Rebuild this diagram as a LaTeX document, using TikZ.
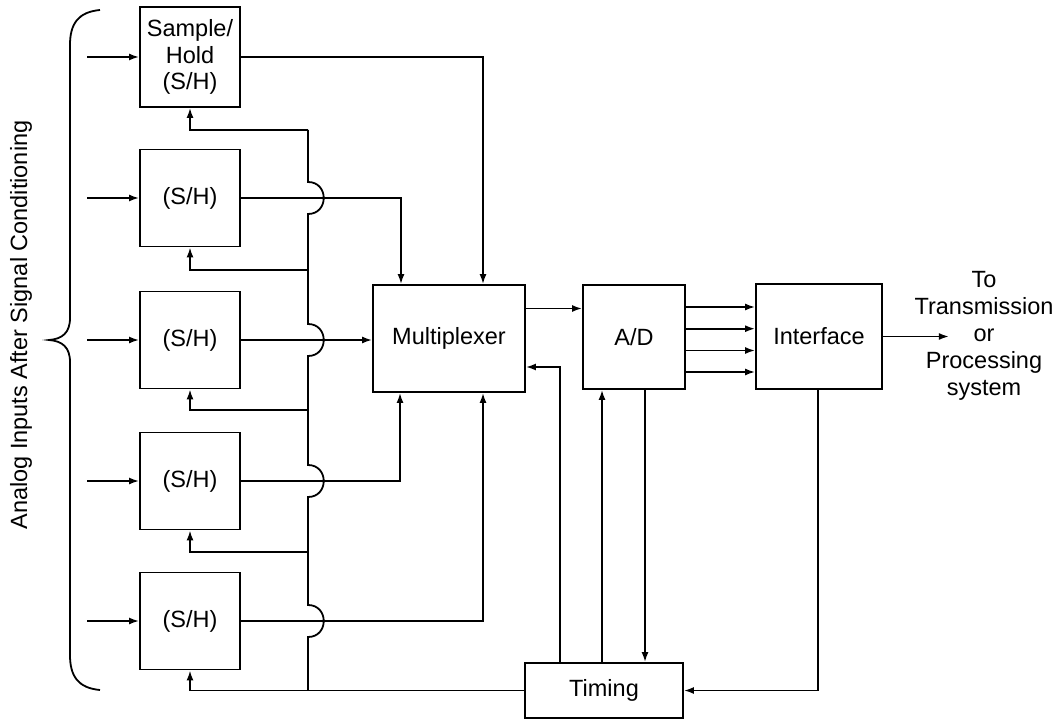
\documentclass[tikz,border=0pt]{standalone}
\usepackage{fontspec}
\setmainfont{Liberation Sans}
\usetikzlibrary{arrows.meta,calc}
\begin{document}
\begin{tikzpicture}[x=1pt,y=-1pt,
  line width=1.8pt,
  box/.style={draw,minimum width=100pt,minimum height=97pt,inner sep=0pt,align=center,font=\fontsize{23.5}{26.5}\selectfont},
  lbl/.style={align=center,font=\fontsize{23.5}{27}\selectfont},
  arr/.style={-{Latex[length=10pt,width=7pt]}}]
\useasboundingbox (0,0) rectangle (1059,719);
% S/H boxes
\node[box,minimum height=100pt] (sh1) at (190,57) {Sample/\\Hold\\(S/H)};
\node[box] (sh2) at (190,198) {(S/H)};
\node[box] (sh3) at (190,340) {(S/H)};
\node[box] (sh4) at (190,481) {(S/H)};
\node[box] (sh5) at (190,621) {(S/H)};
% main blocks
\node[box,minimum width=152pt,minimum height=107pt] (mux) at (449,338.5) {Multiplexer};
\node[box,minimum width=102pt,minimum height=104pt] (ad) at (634,337) {A/D};
\node[box,minimum width=126pt,minimum height=105pt] (intf) at (819,336.5) {Interface};
\node[box,minimum width=158pt,minimum height=55pt] (timing) at (604,690.5) {Timing};
\node[lbl] (dest) at (984,336) {To\\Transmission\\or\\Processing\\system};
\node[lbl,rotate=90] (alab) at (21,325) {Analog Inputs After Signal Conditioning};
% brace
\draw[line width=1.8pt] (100,10) .. controls (78,12) and (70,24) .. (70,45) -- (70,318)
  .. controls (70,333) and (62,339) .. (49,340)
  .. controls (62,341) and (70,347) .. (70,362) -- (70,655)
  .. controls (70,676) and (78,688) .. (100,690);
% inputs
\foreach \n in {1,...,5}{
  \coordinate (in\n) at ($(sh\n.west)+(-52,0)$);
  \draw[arr] (in\n) -- (sh\n.west);
}
% S/H outputs to multiplexer
\coordinate (mt1) at ([xshift=34pt]mux.north);
\coordinate (mt2) at ([xshift=-48pt]mux.north);
\coordinate (mb1) at ([xshift=-49pt]mux.south);
\coordinate (mb2) at ([xshift=34pt]mux.south);
\draw[arr] (sh1.east) -| (mt1);
\draw[arr] (sh2.east) -| (mt2);
\draw[arr] (sh3.east) -- (sh3.east -| mux.west);
\draw[arr] (sh4.east) -| (mb1);
\draw[arr] (sh5.east) -| (mb2);
% bus with jumps
\coordinate (b1) at (308,130);
\coordinate (b2) at (308,270);
\coordinate (b3) at (308,410);
\coordinate (b4) at (308,552);
\coordinate (b5) at (timing.west -| b1);
\draw (b1) -- (308,182) .. controls (329,182) and (329,214) .. (308,214)
  -- (308,324) .. controls (329,324) and (329,356) .. (308,356)
  -- (308,465) .. controls (329,465) and (329,497) .. (308,497)
  -- (308,605) .. controls (329,605) and (329,637) .. (308,637)
  -- (b5);
\draw[arr] (b1) -| (sh1.south);
\draw[arr] (b2) -| (sh2.south);
\draw[arr] (b3) -| (sh3.south);
\draw[arr] (b4) -| (sh4.south);
\draw[arr] (timing.west) -| (sh5.south);
% multiplexer to A/D
\draw[arr] ([yshift=30pt]mux.east) -- ([yshift=30pt]mux.east -| ad.west);
% timing to multiplexer
\coordinate (tm) at ([xshift=-44pt]timing.north);
\draw[arr] (tm) |- ([yshift=-28.5pt]mux.east);
% timing <-> A/D
\coordinate (adl) at ([xshift=-32pt]ad.south);
\coordinate (adr) at ([xshift=11pt]ad.south);
\draw[arr] (adl |- timing.north) -- (adl);
\draw[arr] (adr) -- (adr |- timing.north);
% A/D to interface
\foreach \d in {30,8.3,-13.5,-35}{
  \draw[arr] ([yshift=\d pt]ad.east) -- ([yshift=\d pt]ad.east -| intf.west);
}
% interface output
\coordinate (outp) at ([xshift=66pt]intf.east);
\draw[arr] (intf.east) -- (outp);
% interface to timing
\draw[arr] ([xshift=-1pt]intf.south) |- (timing.east);
\end{tikzpicture}
\end{document}
